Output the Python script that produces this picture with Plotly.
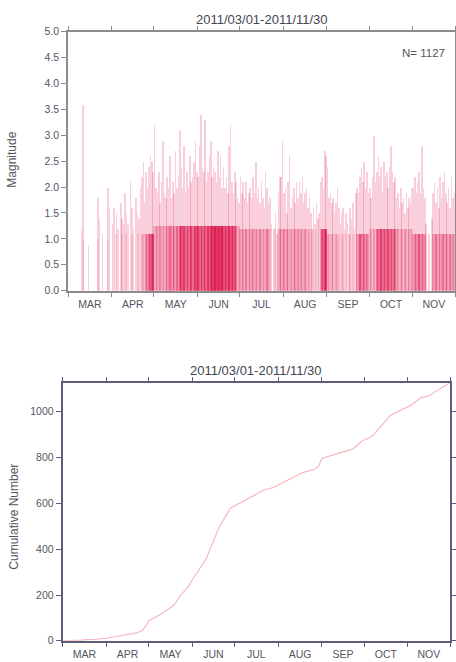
import numpy as np
import plotly.graph_objects as go

# ---------------- data ----------------
month_labels = ["MAR", "APR", "MAY", "JUN", "JUL", "AUG", "SEP", "OCT", "NOV"]
month_days = [31, 30, 31, 30, 31, 31, 30, 31, 30]
title_text = "2011/03/01-2011/11/30"
n_label = "N= 1127"

# events per day
counts_mar = [0,0,0,0,0,0,0,0,0,1, 2,0,0,0,1,0,0,0,0,0, 0,2,1,0,1,0,0,0,2,1, 0]
counts_apr = [1,1,0,2,1,0,1,2,1,1, 2,1,0,1,2,1,0,1,2,1,1,2, 3,2,4,5,6, 9,11,13]
counts_may = [3,3, 4,3,2,4,3,3,3, 4,5,4,5,4,5,4,5,4, 9,11,9, 7,8,7,8,7,8,7,7, 12,12]
counts_jun = [8,9,8,9, 8,9,8,9,9, 14,16,15,17,16,15,16,15,15, 11,10,11,10,11,10,11,10,10, 4,3,3]
counts_jul = [4,3,4,3,4,3,3, 3,4,3,3,4,3,3,4,3,3,3,3, 4,4,3,1,0,1,2,1,3, 4,3,4]
counts_aug = [3,3,4,3,3,2,3, 3,4,3,3,3,4,3,3,3,3,2,3, 2,1,2,1,2,1,1, 4,6,8,12,16]
counts_sep = [3,2, 2,3,2,2,2,3,2,1,2, 2,1,2,1,1,2,1,2,1,1, 4,5,6,6,5,6,5, 3,4]
counts_oct = [2,3,2,3,2, 6,7,7,8,7,8,7,7,6,7,7,6,7,7, 3,3,2,3,3,2,3,3,2,3,3,2]
counts_nov = [4,5,5,5,6,5,5,5,5, 1,0,1,0,1, 4,4,4,4,3,4,4,4,4,4,4,3,4,4,4,3]

# largest magnitude of each day
maxmag_mar = [0,0,0,0,0,0,0,0,0,1.2, 3.6,0,0,0,0.9,0,0,0,0,0, 0,1.8,1.4,0,1.1,0,0,0,2.0,1.6, 0]
maxmag_apr = [1.3,1.6,0,1.5,1.2,0,1.7,1.4,1.3,1.9, 1.5,1.3,0,2.1,1.6,1.2,0,1.8,1.5,1.4,2.0,2.2,
              2.5,1.7,2.3,2.0,2.4, 2.6,2.5,2.3]
maxmag_may = [3.2,2.0, 1.9,2.3,1.7,2.1,2.9,1.9,1.8, 2.2,2.0,2.6,1.8,2.1,1.9,2.7,2.0,2.2,
              3.1,2.4,2.0, 2.8,1.9,2.3,2.0,2.6,2.1,2.2,2.5, 2.9,2.3]
maxmag_jun = [2.2,2.8,3.4,2.4, 2.3,3.3,2.1,2.3,2.6, 2.9,2.2,2.4,2.3,2.1,2.7,2.2,2.6,2.0,
              2.4,2.0,2.2,1.9,2.8,3.2,2.1,1.9,2.3, 2.1,1.8,1.7]
maxmag_jul = [2.2,1.9,2.1,1.8,2.1,1.7,1.9, 2.0,1.8,2.2,1.9,2.5,1.8,2.0,1.7,2.1,1.8,1.6,2.3,
              2.0,1.7,1.8,1.3,0,1.2,1.5,1.1,1.9, 2.2,2.2,2.9]
maxmag_aug = [1.9,2.0,1.5,2.1,2.6,1.6,1.8, 2.0,1.7,2.1,1.8,2.1,1.9,2.2,1.7,1.9,2.0,1.6,1.8,
              1.5,1.2,1.6,1.3,1.7,1.4,1.5, 2.1,2.2,2.0,2.7,2.6]
maxmag_sep = [2.4,1.8, 1.9,1.7,1.8,1.5,1.7,2.0,1.6,1.3,1.5, 1.6,1.2,1.5,1.3,1.1,1.6,1.4,1.7,1.2,1.9,
              2.0,1.9,2.2,2.4,2.1,2.5,2.0, 2.3,1.9]
maxmag_oct = [2.0,1.8,2.2,3.0,2.1, 2.3,2.6,2.2,2.4,1.9,2.5,2.2,2.3,2.0,2.4,2.8,2.3,2.1,2.2,
              1.8,1.9,1.6,2.0,1.7,1.8,1.5,1.9,1.6,1.8,1.7,2.0]
maxmag_nov = [2.0,2.2,1.9,2.1,2.3,1.9,2.8,2.0,1.8, 1.3,0,1.1,0,1.4,
              1.9,2.1,1.7,2.0,1.6,2.2,1.8,2.1,2.3,1.9,1.7,2.0,1.6,2.2,1.8,1.9]

# typical (bulk) magnitude per month
typ_mag = [1.0, 1.1, 1.25, 1.25, 1.2, 1.2, 1.1, 1.2, 1.1]

daily_counts = (counts_mar + counts_apr + counts_may + counts_jun + counts_jul +
                counts_aug + counts_sep + counts_oct + counts_nov)
daily_max = (maxmag_mar + maxmag_apr + maxmag_may + maxmag_jun + maxmag_jul +
             maxmag_aug + maxmag_sep + maxmag_oct + maxmag_nov)

# ---------------- derived ----------------
ndays = sum(month_days)
bounds = np.concatenate([[0], np.cumsum(month_days)])
mids = (bounds[:-1] + bounds[1:]) / 2.0
days = np.arange(ndays)
month_of_day = np.repeat(np.arange(len(month_days)), month_days)
cnt = np.array(daily_counts)
mx = np.array(daily_max, dtype=float)
typ = np.array(typ_mag)[month_of_day]

alpha_top = 0.21
alpha_base = 0.12
col = "rgb(222,28,82)"
has = cnt > 0
multi = cnt > 1
base_h = np.minimum(typ, mx)
base_op = 1 - (1 - alpha_base) ** (cnt - 1)

cum_x = np.concatenate([[0], days + 1])
cum_y = np.concatenate([[0], np.cumsum(cnt)])

fig = go.Figure()
fig.add_trace(go.Bar(x=days[multi] + 0.5, y=base_h[multi], width=0.85,
                     marker=dict(color=col, opacity=base_op[multi].tolist(), line=dict(width=0)),
                     xaxis="x", yaxis="y", showlegend=False, hoverinfo="skip"))
fig.add_trace(go.Bar(x=days[has] + 0.5, y=mx[has], width=0.4,
                     marker=dict(color=col, opacity=alpha_top, line=dict(width=0)),
                     xaxis="x", yaxis="y", showlegend=False, hoverinfo="skip"))
fig.add_trace(go.Scatter(x=[0], y=[0], mode="markers", marker=dict(opacity=0),
                         xaxis="x3", yaxis="y", showlegend=False, hoverinfo="skip"))
fig.add_trace(go.Scatter(x=cum_x, y=cum_y, mode="lines",
                         line=dict(color="#f6b2b8", width=1.1),
                         xaxis="x2", yaxis="y2", showlegend=False, hoverinfo="skip"))
fig.add_trace(go.Scatter(x=[0], y=[0], mode="markers", marker=dict(opacity=0),
                         xaxis="x4", yaxis="y2", showlegend=False, hoverinfo="skip"))

W, H = 456, 662
FONT = "Liberation Sans, Arial, Helvetica, sans-serif"
tick_font = dict(family=FONT, size=10.5, color="#555560")

top_line = "#8c8c8c"
bot_line = "#5c5c7c"

def px_x(p):
    return p / W

def px_y(p):
    return 1 - p / H

top_xd = [px_x(68), px_x(455)]
top_yd = [px_y(290.7), px_y(31.5)]
bot_xd = [px_x(62.7), px_x(450)]
bot_yd = [px_y(640.8), px_y(382.7)]

def xbase(domain, anchor, color, lw):
    return dict(domain=domain, anchor=anchor, range=[0, ndays], tickmode="array",
                tickvals=bounds.tolist(), ticks="outside", ticklen=4, tickwidth=1,
                tickcolor=color, showticklabels=False, showline=True, linecolor=color,
                linewidth=lw, mirror="ticks", showgrid=False, zeroline=False,
                automargin=False, fixedrange=True)

def xlab(over, anchor):
    return dict(overlaying=over, anchor=anchor, side="bottom", range=[0, ndays],
                tickmode="array", tickvals=mids.tolist(), ticktext=month_labels,
                ticks="outside", ticklen=4, tickcolor="rgba(0,0,0,0)",
                showline=False, showgrid=False, zeroline=False, tickfont=tick_font,
                automargin=False, fixedrange=True)

mag_ticks = [i * 0.5 for i in range(11)]
cum_ticks = [0, 200, 400, 600, 800, 1000]

fig.update_layout(
    width=W, height=H, template="none",
    margin=dict(l=0, r=0, t=0, b=0, autoexpand=False),
    paper_bgcolor="white", plot_bgcolor="white",
    barmode="overlay", bargap=0,
    xaxis=xbase(top_xd, "y", top_line, 1.6),
    xaxis3=xlab("x", "y"),
    yaxis=dict(domain=top_yd, anchor="x", range=[0, 5], tickmode="array",
               tickvals=mag_ticks, ticktext=["%.1f" % v for v in mag_ticks],
               ticks="outside", ticklen=5, tickcolor=top_line, showline=True,
               linecolor=top_line, linewidth=1.6, mirror="ticks", showgrid=False,
               zeroline=False, tickfont=tick_font, automargin=False, fixedrange=True),
    xaxis2=xbase(bot_xd, "y2", bot_line, 2),
    xaxis4=xlab("x2", "y2"),
    yaxis2=dict(domain=bot_yd, anchor="x2", range=[0, cum_y[-1]], tickmode="array",
                tickvals=cum_ticks, ticks="outside", ticklen=5, tickcolor=bot_line,
                showline=True, linecolor=bot_line, linewidth=2, mirror="ticks",
                showgrid=False, zeroline=False, tickfont=tick_font, automargin=False,
                fixedrange=True),
    annotations=[
        dict(text=title_text, x=px_x(261.5), y=px_y(19.5), xref="paper", yref="paper",
             showarrow=False, xanchor="center", yanchor="middle",
             font=dict(family=FONT, size=13, color="#444450")),
        dict(text=title_text, x=px_x(256.3), y=px_y(370), xref="paper", yref="paper",
             showarrow=False, xanchor="center", yanchor="middle",
             font=dict(family=FONT, size=13, color="#444450")),
        dict(text=n_label, x=px_x(447), y=px_y(53.5), xref="paper", yref="paper",
             showarrow=False, xanchor="right", yanchor="middle",
             font=dict(family=FONT, size=11.5, color="#555560")),
        dict(text="Magnitude", x=px_x(11.7), y=px_y(160), xref="paper", yref="paper",
             showarrow=False, xanchor="center", yanchor="middle", textangle=-90,
             font=dict(family=FONT, size=12, color="#555560")),
        dict(text="Cumulative Number", x=px_x(14), y=px_y(516.7), xref="paper",
             yref="paper", showarrow=False, xanchor="center", yanchor="middle",
             textangle=-90, font=dict(family=FONT, size=12, color="#555560")),
    ],
)

fig.write_html("out.html", config={"displayModeBar": False},
               post_script="document.body.style.margin='0';document.body.style.padding='0';")
